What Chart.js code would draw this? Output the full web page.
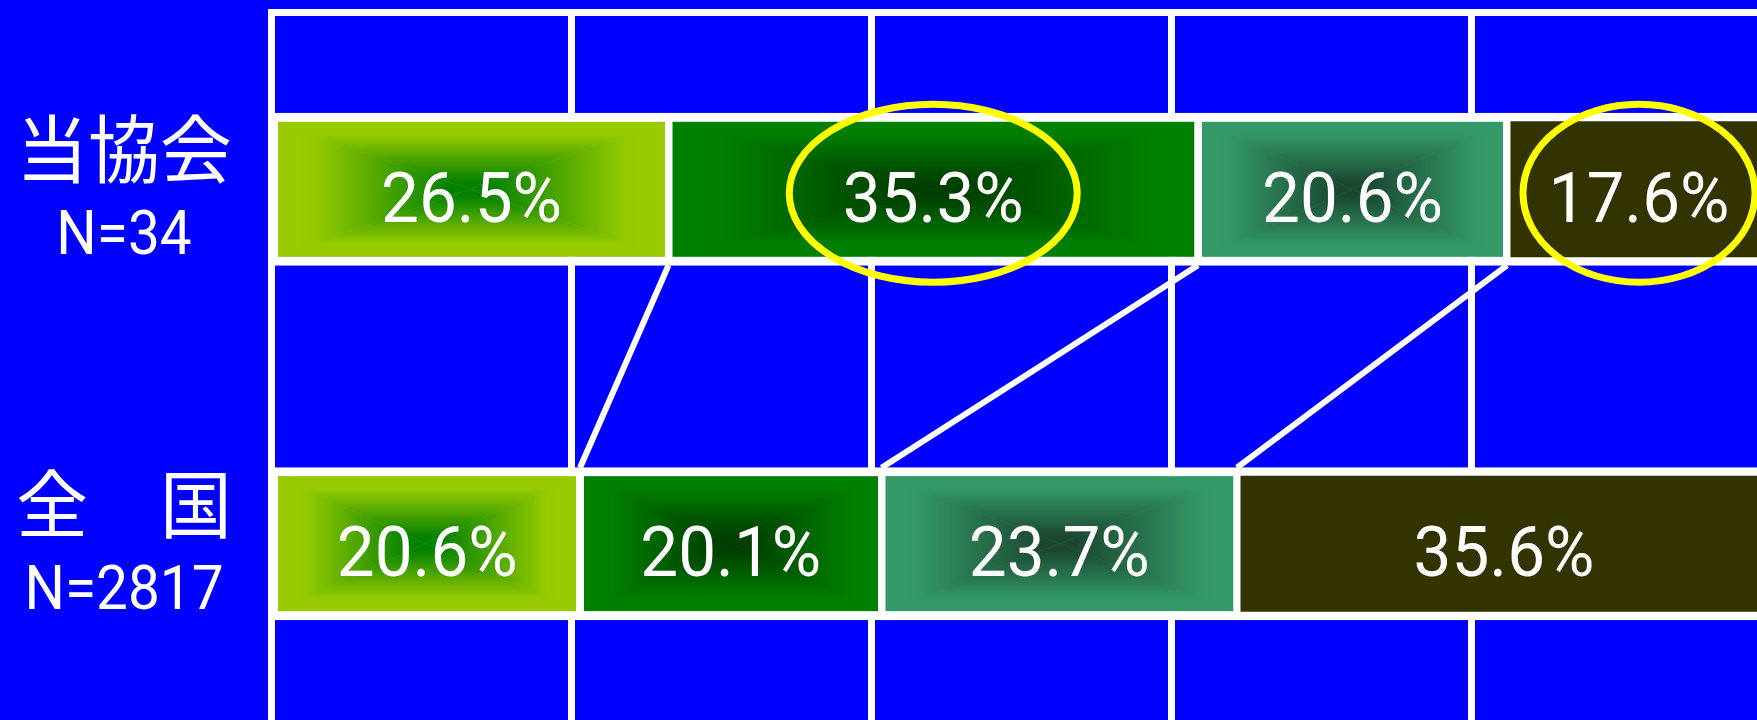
<!DOCTYPE html>
<html lang="ja">
<head>
<meta charset="UTF-8">
<title>当協会・全国 比較</title>
<script src="https://cdn.jsdelivr.net/npm/chart.js@4.4.1/dist/chart.umd.min.js"></script>
<style>
    html, body { margin: 0; padding: 0; background: #0000ff; overflow: hidden; }
    #marco { width: 1790px; height: 730px; }
</style>
</head>
<body>
<div id="marco"><canvas id="grafica" width="1790" height="730"></canvas></div>
<script>
// 行ラベルと回答数
const rowLabels = ["当協会", "全　国"];
const rowCounts = ["N=34", "N=2817"];

// 区分ごとの割合（%）
const share1 = [26.5, 20.6];
const share2 = [35.3, 20.1];
const share3 = [20.6, 23.7];
const share4 = [17.6, 35.6];

// 横軸（目盛は表示しない）
const xMin = 0;
const xMax = 100;
const xStep = 20;

// 丸で囲む項目 [区分, 行]
const circled = [[1, 0], [3, 0]];

// ---- 見た目 ----
const BAND_STYLE = [
    { edge: "#99cc00", core: "#007f00" },
    { edge: "#008000", core: "#003c00" },
    { edge: "#339966", core: "#1a4630" },
    { edge: "#333300", core: "#333300" },
];
const RING_SIZE = [{ rx: 144, ry: 89 }, { rx: 116, ry: 89 }];
const BAR_PCT = 0.429;
const BORDER = { top: 8.5, bottom: 8.5, left: 4, right: 4 };
const NUM_FONT = "Roboto, 'Liberation Sans', sans-serif";
const CJK_FONT = "'Noto Sans CJK JP', 'Noto Sans', sans-serif";
const ROW_LABEL_X = 124;

function mezcla(a, b, t) {
    const pa = [1, 3, 5].map((k) => parseInt(a.slice(k, k + 2), 16));
    const pb = [1, 3, 5].map((k) => parseInt(b.slice(k, k + 2), 16));
    const c = pa.map((v, k) => Math.round(v + (pb[k] - v) * t));
    return `rgb(${c[0]},${c[1]},${c[2]})`;
}

/**
 * 中心が濃くなる四角形グラデーションの画像
 */
function glowImage(w, h, edge, core) {
    const c = document.createElement("canvas");
    c.width = Math.max(1, Math.round(w));
    c.height = Math.max(1, Math.round(h));
    const g = c.getContext("2d");
    const W = c.width, H = c.height, cx = W / 2, cy = H / 2;
    g.fillStyle = edge;
    g.fillRect(0, 0, W, H);

    const addStops = (grad) => {
        // pos 0 = 外周, pos 1 = 中心
        for (let p = 0; p <= 1.0001; p += 0.1) {
            const t = Math.min(1, Math.max(0, (p - 0.18) / 0.74));
            grad.addColorStop(Math.min(1, p), mezcla(edge, core, t));
        }
        return grad;
    };
    const tris = [
        { pts: [[0, 0], [W, 0]], g: [cx, 0, cx, cy] },
        { pts: [[0, H], [W, H]], g: [cx, H, cx, cy] },
        { pts: [[0, 0], [0, H]], g: [0, cy, cx, cy] },
        { pts: [[W, 0], [W, H]], g: [W, cy, cx, cy] },
    ];
    tris.forEach((tr) => {
        g.beginPath();
        g.moveTo(tr.pts[0][0], tr.pts[0][1]);
        g.lineTo(tr.pts[1][0], tr.pts[1][1]);
        g.lineTo(cx, cy);
        g.closePath();
        g.fillStyle = addStops(g.createLinearGradient(...tr.g));
        g.fill();
    });
    return c;
}

const cachePatrones = {};

/**
 * 棒の塗り：スケールから位置を求めてパターンを合わせる
 */
function bandFill(context) {
    const chart = context.chart;
    const d = context.datasetIndex;
    const i = context.dataIndex;
    const style = BAND_STYLE[d];
    if (context.type !== "data" || !chart.chartArea || style.edge === style.core) return style.edge;
    const xs = chart.scales.x, ys = chart.scales.y;
    if (!xs || !ys) return style.edge;

    let start = 0;
    for (let k = 0; k < d; k++) start += chart.data.datasets[k].data[i];
    const end = start + chart.data.datasets[d].data[i];
    const left = xs.getPixelForValue(start);
    const right = xs.getPixelForValue(end);
    const step = Math.abs(ys.getPixelForValue(1) - ys.getPixelForValue(0));
    const thick = step * BAR_PCT;
    const top = ys.getPixelForValue(i) - thick / 2;

    const ix = left + BORDER.left;
    const iy = top + BORDER.top;
    const iw = right - left - BORDER.left - BORDER.right;
    const ih = thick - BORDER.top - BORDER.bottom;
    const key = [d, i, ix, iy, iw, ih].map((v) => Math.round(v)).join(",");
    if (!cachePatrones[key]) {
        const pat = chart.ctx.createPattern(glowImage(iw, ih, style.edge, style.core), "no-repeat");
        pat.setTransform(new DOMMatrix().translate(ix, iy));
        cachePatrones[key] = pat;
    }
    return cachePatrones[key];
}

function textoAncho(ctx, text, x, y, sx) {
    ctx.save();
    ctx.translate(x, y);
    ctx.scale(sx, 1);
    ctx.fillText(text, 0, 0);
    ctx.restore();
}

// 区分の境目を結ぶ線
const seriesLines = {
    id: "seriesLines",
    beforeDatasetsDraw(chart) {
        const ctx = chart.ctx;
        const n = chart.data.datasets.length;
        ctx.save();
        ctx.strokeStyle = "#ffffff";
        ctx.lineWidth = 6;
        for (let d = 0; d < n - 1; d++) {
            const bars = chart.getDatasetMeta(d).data;
            for (let i = 0; i + 1 < bars.length; i++) {
                const a = bars[i], b = bars[i + 1];
                ctx.beginPath();
                ctx.moveTo(a.x, a.y + a.height / 2);
                ctx.lineTo(b.x, b.y - b.height / 2);
                ctx.stroke();
            }
        }
        ctx.restore();
    },
};

// 値ラベル・丸印・行ラベル
const etiquetas = {
    id: "etiquetas",
    afterDatasetsDraw(chart) {
        const ctx = chart.ctx;
        ctx.save();
        ctx.fillStyle = "#ffffff";
        ctx.textAlign = "center";
        ctx.textBaseline = "alphabetic";
        ctx.font = `71px ${NUM_FONT}`;
        chart.data.datasets.forEach((ds, d) => {
            chart.getDatasetMeta(d).data.forEach((bar, i) => {
                const cx = (bar.x + bar.base) / 2;
                textoAncho(ctx, `${ds.data[i].toFixed(1)}%`, cx, bar.y + 32.5, 0.95);
            });
        });

        ctx.strokeStyle = "#ffff00";
        ctx.lineWidth = 7;
        circled.forEach(([d, i], k) => {
            const bar = chart.getDatasetMeta(d).data[i];
            const cx = (bar.x + bar.base) / 2;
            ctx.beginPath();
            ctx.ellipse(cx, bar.y + 4, RING_SIZE[k].rx, RING_SIZE[k].ry, 0, 0, Math.PI * 2);
            ctx.stroke();
        });

        const ys = chart.scales.y;
        rowLabels.forEach((label, i) => {
            const y = ys.getPixelForValue(i);
            ctx.font = `74px ${CJK_FONT}`;
            ctx.textBaseline = "middle";
            textoAncho(ctx, label, ROW_LABEL_X, y - 40, 0.97);
            ctx.font = `61px ${NUM_FONT}`;
            ctx.textBaseline = "alphabetic";
            textoAncho(ctx, rowCounts[i], ROW_LABEL_X, y + 65, 0.93);
        });
        ctx.restore();
    },
};

const series = [share1, share2, share3, share4];

document.addEventListener("DOMContentLoaded", () => {
    const ctx = document.getElementById("grafica").getContext("2d");
    new Chart(ctx, {
        type: "bar",
        data: {
            labels: rowLabels,
            datasets: series.map((values) => ({
                data: values,
                backgroundColor: bandFill,
                borderColor: "#ffffff",
                borderWidth: BORDER,
                borderSkipped: false,
                inflateAmount: 0.5,
                barPercentage: BAR_PCT,
                categoryPercentage: 1,
            })),
        },
        options: {
            indexAxis: "y",
            responsive: false,
            animation: false,
            events: [],
            layout: { padding: { top: 0, left: 0, right: 19, bottom: 9 } },
            plugins: { legend: { display: false }, tooltip: { enabled: false } },
            scales: {
                x: {
                    type: "linear",
                    position: "top",
                    stacked: true,
                    min: xMin,
                    max: xMax,
                    ticks: { display: false, stepSize: xStep },
                    grid: { color: "#ffffff", lineWidth: 7, drawTicks: false },
                    border: { display: true, color: "#ffffff", width: 7 },
                    afterFit: (scale) => { scale.height = 12; },
                },
                y: {
                    type: "category",
                    stacked: true,
                    ticks: { display: false },
                    grid: { display: false },
                    border: { display: true, color: "#ffffff", width: 7 },
                    afterFit: (scale) => { scale.width = 271; },
                },
            },
        },
        plugins: [seriesLines, etiquetas],
    });
});
</script>
</body>
</html>
